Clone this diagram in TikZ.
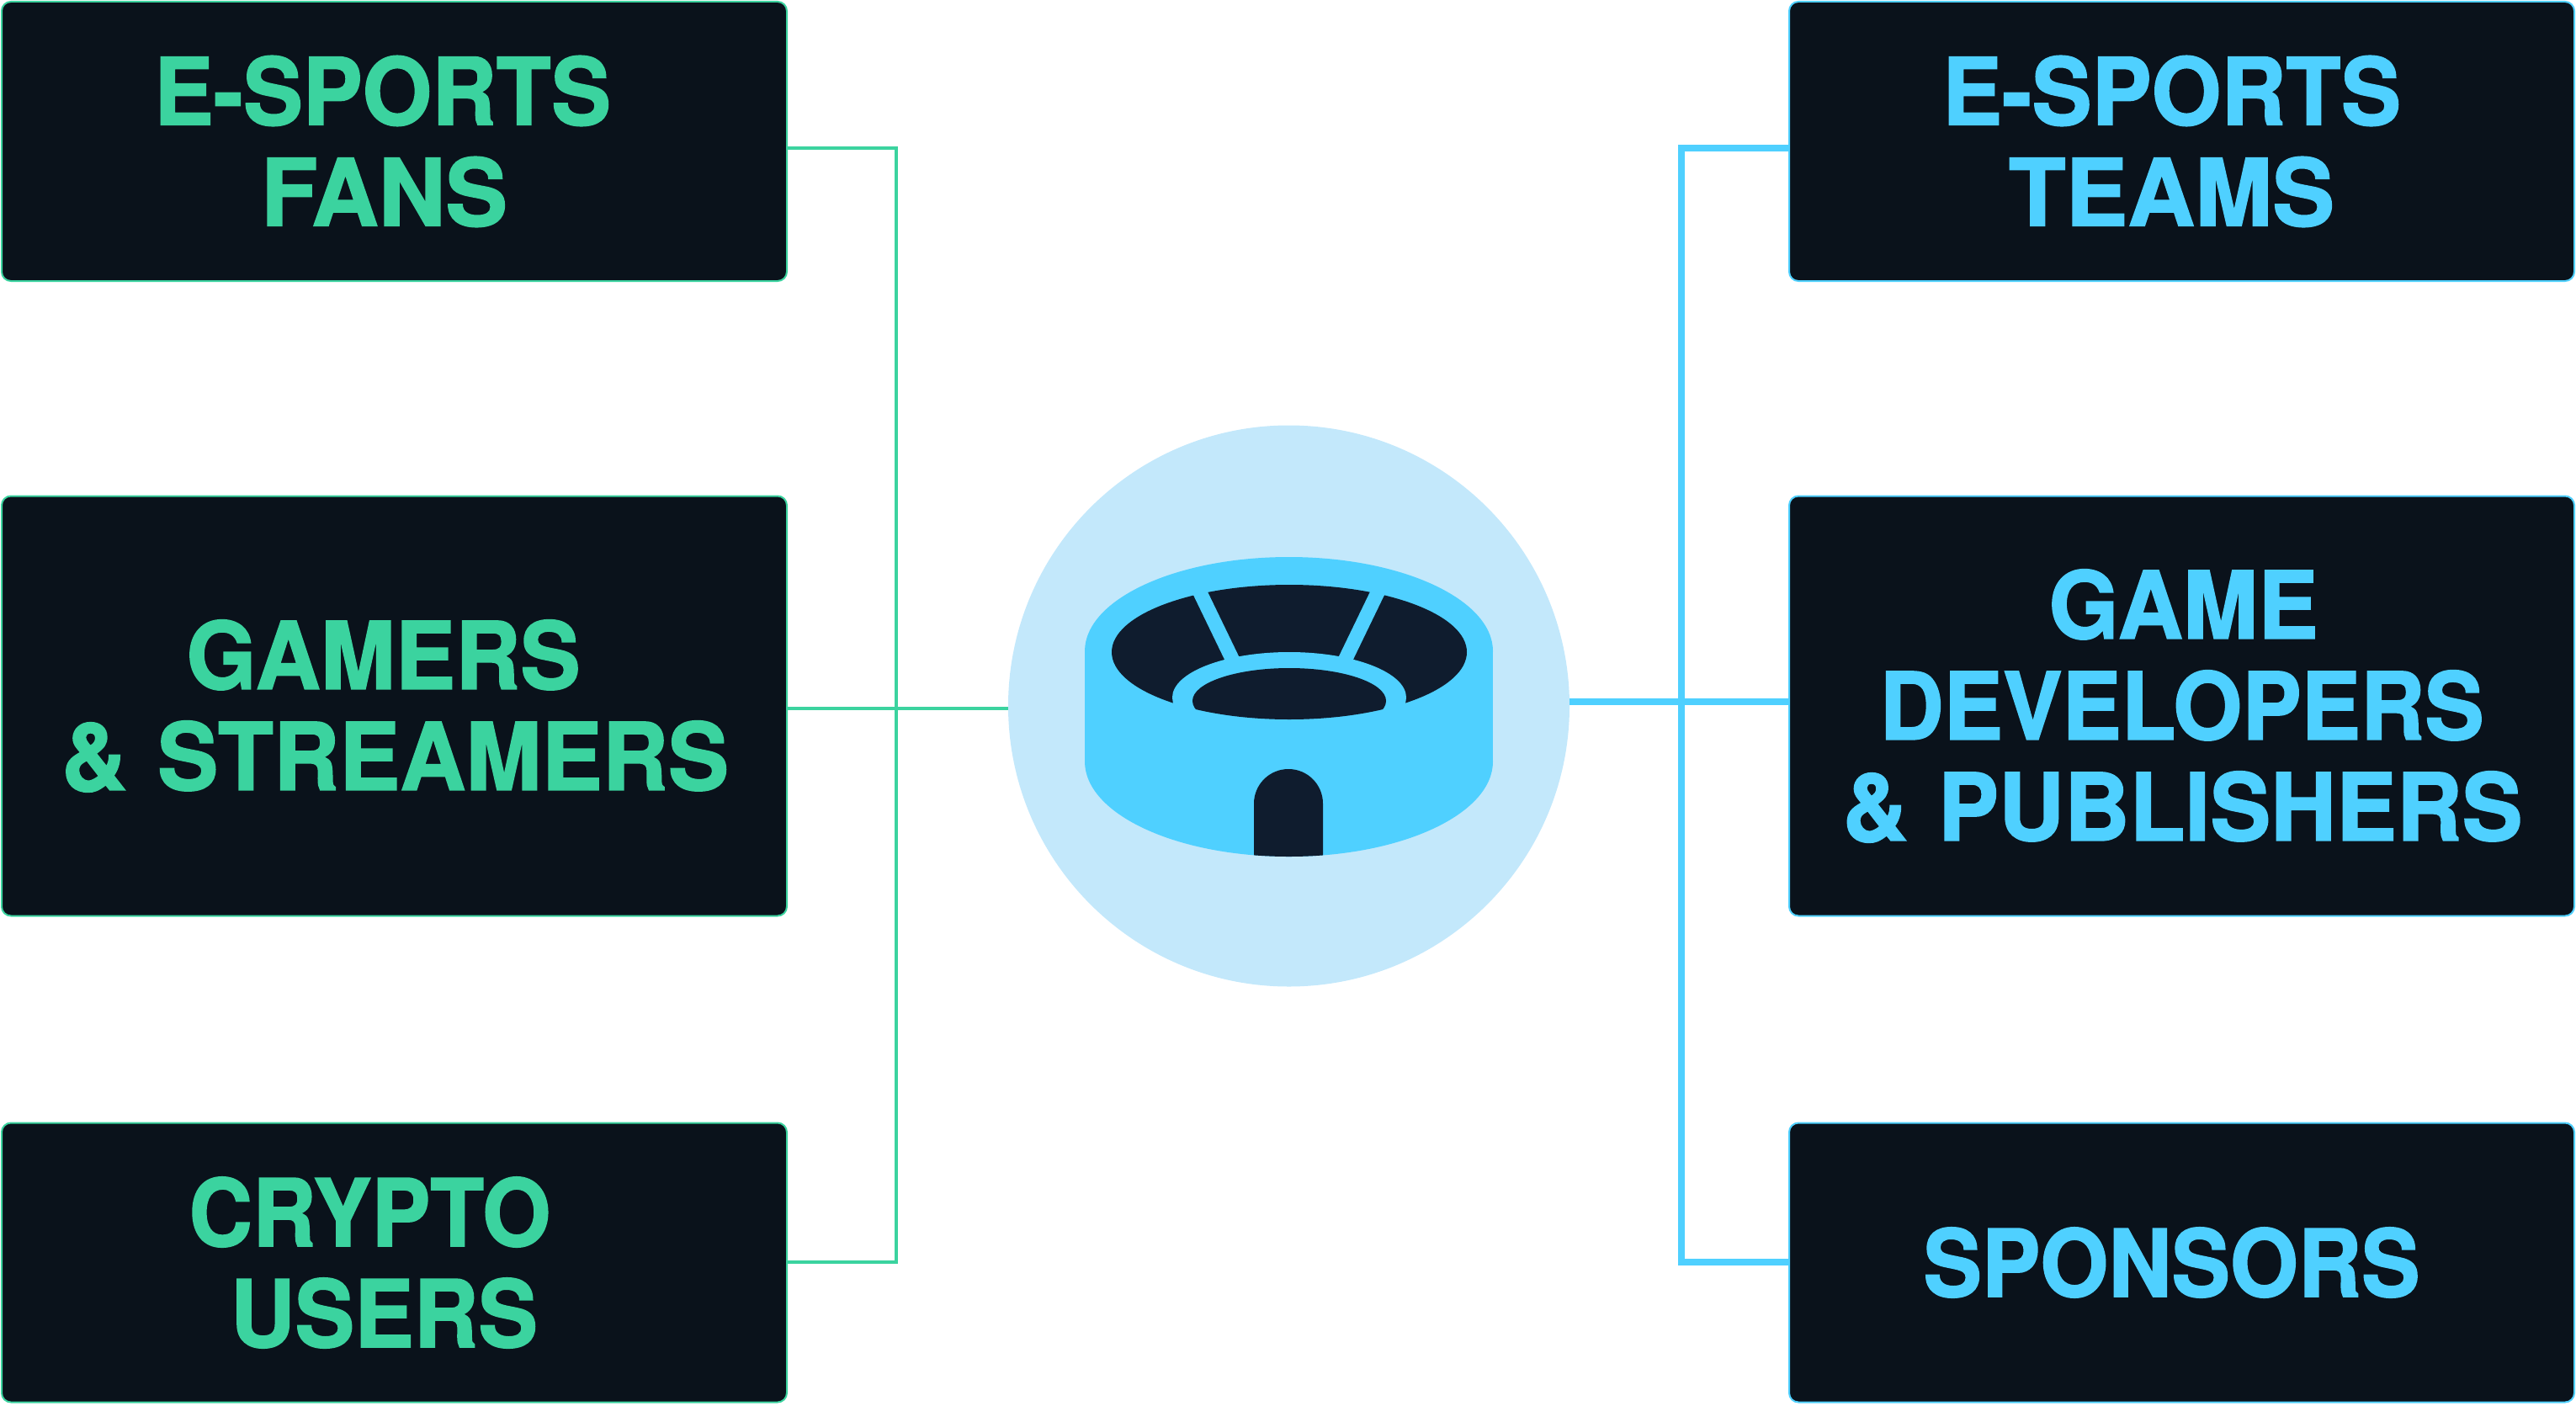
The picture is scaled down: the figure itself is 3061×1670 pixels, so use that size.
\documentclass[tikz,border=0pt]{standalone}
\usepackage{fontspec}
\usepackage{graphicx}
\newfontfamily\blockfont[FakeBold=1.6]{TeX Gyre Heros Bold}
\definecolor{boxdark}{HTML}{0A121B}
\definecolor{icondark}{HTML}{0F1C2E}
\definecolor{mint}{HTML}{3BD39F}
\definecolor{sky}{HTML}{4FD0FF}
\definecolor{pale}{HTML}{C3E8FB}
% one line of a label: width, horizontal offset, text
\newcommand{\fitline}[3]{\hspace*{#2pt}\resizebox{#1pt}{82pt}{\blockfont #3}}
\tikzset{
  card/.style={rectangle,rounded corners=11pt,fill=boxdark,line width=2pt,outer sep=0pt,inner sep=0pt,
    text width=933pt,align=center,font=\fontsize{60}{120}\selectfont},
  mintcard/.style={card,draw=mint,text=mint},
  skycard/.style={card,draw=sky,text=sky},
  mintline/.style={draw=mint,line width=4.5pt,line join=miter},
  skyline/.style={draw=sky,line width=8pt,line join=miter},
}
\begin{document}
\begin{tikzpicture}[x=1pt,y=-1pt]
\useasboundingbox (0,0) rectangle (3061,1670);
\node[mintcard,minimum height=332pt] (fans) at (468.5,168) {\fitline{543}{-28}{E-SPORTS}\\\fitline{293}{-24}{FANS}};
\node[mintcard,minimum height=499pt] (gamers) at (468.5,839) {\fitline{468}{-26}{GAMERS}\\\fitline{793}{2}{\& STREAMERS}};
\node[mintcard,minimum height=332pt] (crypto) at (468.5,1500.5) {\fitline{430}{-58}{CRYPTO}\\\fitline{365}{-24}{USERS}};
\node[skycard,minimum height=332pt] (teams) at (2592.5,168) {\fitline{545}{-24}{E-SPORTS}\\\fitline{387}{-24}{TEAMS}};
\node[skycard,minimum height=499pt] (devs) at (2592.5,839) {\fitline{320}{4}{GAME}\\\fitline{718}{0}{DEVELOPERS}\\\fitline{808}{2}{\& PUBLISHERS}};
\node[skycard,minimum height=332pt] (sponsors) at (2592.5,1500.5) {\fitline{590}{-24}{SPONSORS}};
\node[circle,fill=pale,minimum size=667pt,inner sep=0pt,outer sep=0pt] (hub) at (1531.5,839) {};
\coordinate (mt) at (1065,176);
\coordinate (mb) at (1065,1500);
\coordinate (st) at (1998,176);
\coordinate (sb) at (1998,1500);
\draw[mintline] ([yshift=-8pt]fans.east) -- (mt) -- (mb) -- ([yshift=0.5pt]crypto.east);
\draw[mintline] ([yshift=-3pt]gamers.east) -- ([yshift=-3pt]hub.west);
\draw[skyline] ([yshift=-8pt]teams.west) -- (st) -- (sb) -- ([yshift=0.5pt]sponsors.west);
\draw[skyline] ([yshift=5pt]hub.east) -- ([yshift=5pt]devs.west);
% stadium
\fill[sky] (1289,774) rectangle (1774,905);
\fill[sky] (1531.5,774) ellipse [x radius=242.5,y radius=112];
\fill[sky] (1531.5,905) ellipse [x radius=242.5,y radius=113];
\fill[icondark] (1532,775) ellipse [x radius=211,y radius=80];
\fill[sky] (1532,829) ellipse [x radius=139,y radius=54];
\begin{scope}
  \clip (1532,775) ellipse [x radius=211,y radius=80];
  \fill[icondark] (1532,833) ellipse [x radius=115,y radius=39];
\end{scope}
\draw[sky,line width=17pt] (1423,698) -- (1466,787);
\draw[sky,line width=17pt] (1640,698) -- (1597,787);
\begin{scope}
  \clip (1531.5,905) ellipse [x radius=242.5,y radius=113];
  \fill[icondark] (1490,1030) -- (1490,955) arc [start angle=180,end angle=360,radius=41] -- (1572,1030) -- cycle;
\end{scope}
\end{tikzpicture}
\end{document}
